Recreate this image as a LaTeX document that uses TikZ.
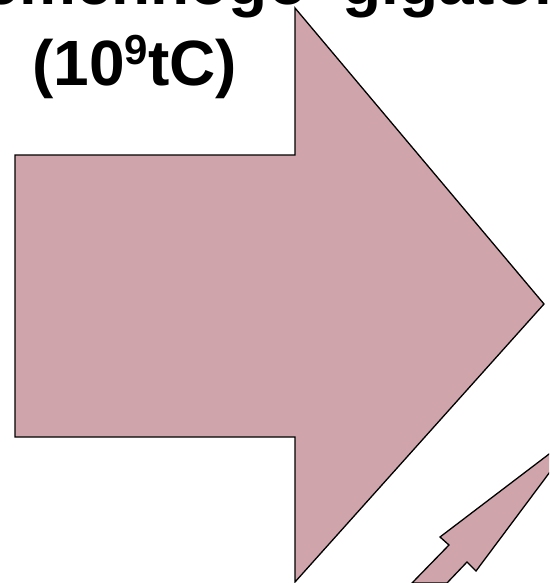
\documentclass[tikz,border=0pt]{standalone}
\usepackage{fontspec}
\setmainfont{Liberation Sans}
\usetikzlibrary{positioning}
\definecolor{arrowpink}{RGB}{207,164,170}

\begin{document}
\begin{tikzpicture}[x=1pt,y=-1pt,
  flowarrow/.style={fill=arrowpink,draw=black,line width=1.3pt,line join=miter},
  title/.style={font=\fontsize{64}{64}\selectfont\bfseries,inner sep=0pt},
]

% Frame
\useasboundingbox (0,0) rectangle (549,583);
\clip (0,0) rectangle (549,583);

% Big flux arrow
\draw[flowarrow] (15,155) -- (295,155) -- (295,8) -- (544,304)
  -- (295,582) -- (295,437) -- (15,437) -- cycle;

% Small arrow (bottom right)
\draw[flowarrow] (412,583) -- (449,545) -- (440,537) -- (582,429)
  -- (476,571) -- (467,562) -- (447,583) -- cycle;

% Title
\node[title,anchor=base west] (unitline) at (342,5)
  {\llap{sovremennogo\hspace{35pt}}gigaton};
\node[title,anchor=base west] (unitsym) at (32,86)
  {(10{\fontsize{42}{42}\selectfont\raisebox{21pt}{9}}tC)};

\end{tikzpicture}
\end{document}
